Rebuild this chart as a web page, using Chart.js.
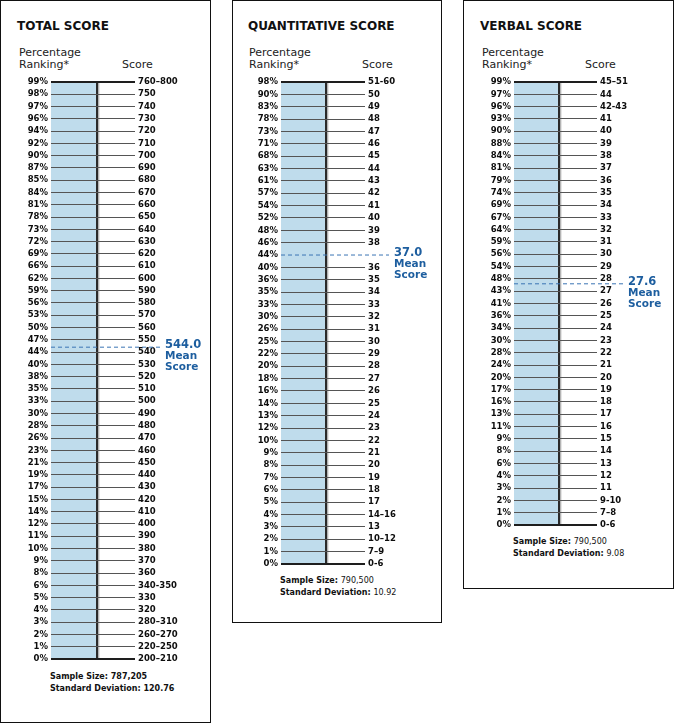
<!DOCTYPE html>
<html>
<head>
<meta charset="utf-8">
<title>Score Percentiles</title>
<script src="https://cdn.jsdelivr.net/npm/chart.js@4.4.1/dist/chart.umd.min.js"></script>
<style>
    html, body { margin: 0; padding: 0; background: #fff; }
    body { position: relative; width: 674px; height: 723px; overflow: hidden; font-family: 'DejaVu Sans', sans-serif; color: #111; }
    .panel { position: absolute; top: 0; border: 1px solid #111; box-sizing: border-box; }
    .txt { position: absolute; white-space: nowrap; }
    .title { font-size: 12px; font-weight: bold; line-height: 14px; }
    .head { font-size: 11px; line-height: 12px; color: #222; }
    .foot { font-size: 8px; line-height: 12px; }
    .foot b { font-weight: bold; }
    canvas { position: absolute; }
</style>
</head>
<body>
<script>
    "use strict";

    // ---- data ----
    const totalRanks = [99, 98, 97, 96, 94, 92, 90, 87, 85, 84, 81, 78, 73, 72, 69, 66, 62, 59, 56, 53, 50, 47, 44, 40, 38, 35, 33, 30, 28, 26, 23, 21, 19, 17, 15, 14, 12, 11, 10, 9, 8, 6, 5, 4, 3, 2, 1, 0];
    const totalScores = ['760–800', '750', '740', '730', '720', '710', '700', '690', '680', '670', '660', '650', '640', '630', '620', '610', '600', '590', '580', '570', '560', '550', '540', '530', '520', '510', '500', '490', '480', '470', '460', '450', '440', '430', '420', '410', '400', '390', '380', '370', '360', '340-350', '330', '320', '280–310', '260–270', '220–250', '200–210'];
    const totalMean = 544.0;

    const quantRanks = [98, 90, 83, 78, 73, 71, 68, 63, 61, 57, 54, 52, 48, 46, 44, 40, 36, 35, 33, 30, 26, 25, 22, 20, 18, 16, 14, 13, 12, 10, 9, 8, 7, 6, 5, 4, 3, 2, 1, 0];
    const quantScores = ['51-60', '50', '49', '48', '47', '46', '45', '44', '43', '42', '41', '40', '39', '38', '37', '36', '35', '34', '33', '32', '31', '30', '29', '28', '27', '26', '25', '24', '23', '22', '21', '20', '19', '18', '17', '14–16', '13', '10–12', '7–9', '0-6'];
    const quantMean = 37.0;

    const verbalRanks = [99, 97, 96, 93, 90, 88, 84, 81, 79, 74, 69, 67, 64, 59, 56, 54, 48, 43, 41, 36, 34, 30, 28, 24, 20, 17, 16, 13, 11, 9, 8, 6, 4, 3, 2, 1, 0];
    const verbalScores = ['45–51', '44', '42-43', '41', '40', '39', '38', '37', '36', '35', '34', '33', '32', '31', '30', '29', '28', '27', '26', '25', '24', '23', '22', '21', '20', '19', '18', '17', '16', '15', '14', '13', '12', '11', '9-10', '7–8', '0-6'];
    const verbalMean = 27.6;

    const sampleSizes = ['787,205', '790,500', '790,500'];
    const stdDevs = ['120.76', '10.92', '9.08'];

    // ---- layout (page pixels) ----
    const panels = [
        { title: 'TOTAL SCORE', ranks: totalRanks, scores: totalScores, mean: totalMean,
          left: 0, width: 211, height: 723, titleX: 17, headX: 19, scoreX: 122,
          areaLeft: 51, split: 97, areaRight: 135, top: 82, bottom: 659, dashEnd: 160, footTop: 671, boldNumbers: true },
        { title: 'QUANTITATIVE SCORE', ranks: quantRanks, scores: quantScores, mean: quantMean,
          left: 232, width: 210, height: 623, titleX: 248, headX: 249, scoreX: 362,
          areaLeft: 281, split: 326, areaRight: 365, top: 82, bottom: 564, dashEnd: 389, footTop: 575, boldNumbers: false },
        { title: 'VERBAL SCORE', ranks: verbalRanks, scores: verbalScores, mean: verbalMean,
          left: 463, width: 211, height: 589, titleX: 480, headX: 482, scoreX: 585,
          areaLeft: 514, split: 559, areaRight: 597, top: 82, bottom: 525, dashEnd: 623, footTop: 536, boldNumbers: false }
    ];

    const BLUE_FILL = '#bfdcec';
    const MEAN_BLUE = '#1d5e9f';
    const GRID = '#555';

    Chart.defaults.font.family = "'DejaVu Sans', sans-serif";
    Chart.defaults.color = '#0d0d0d';

    // row position of the mean, interpolated between the score rows around it
    function meanRow(scores, mean) {
        const v = scores.map(s => parseFloat(s));
        for (let i = 0; i < v.length - 1; i++) {
            if (v[i] >= mean && mean >= v[i + 1]) {
                return i + (v[i] - mean) / (v[i] - v[i + 1]);
            }
        }
        return 0;
    }

    // draws "544.0 / Mean / Score" at the end of the dashed line
    const meanLabel = {
        id: 'meanLabel',
        afterDraw(chart, args, opts) {
            const ctx = chart.ctx;
            const x = chart.scales.x.getPixelForValue(opts.xEnd) + 5;
            const y = chart.scales.y.getPixelForValue(opts.row);
            ctx.save();
            ctx.fillStyle = MEAN_BLUE;
            ctx.textAlign = 'left';
            ctx.textBaseline = 'middle';
            ctx.font = "bold 11.5px 'DejaVu Sans'";
            ctx.fillText(opts.text, x, y - 2);
            ctx.font = "bold 10.5px 'DejaVu Sans'";
            ctx.fillText('Mean', x, y + 9);
            ctx.fillText('Score', x, y + 20);
            ctx.restore();
        }
    };

    function addText(cls, x, y, html) {
        const d = document.createElement('div');
        d.className = 'txt ' + cls;
        d.style.left = x + 'px';
        d.style.top = y + 'px';
        d.innerHTML = html;
        document.body.appendChild(d);
    }

    panels.forEach(function (p, k) {
        const box = document.createElement('div');
        box.className = 'panel';
        box.style.left = p.left + 'px';
        box.style.width = p.width + 'px';
        box.style.height = p.height + 'px';
        document.body.appendChild(box);

        addText('title', p.titleX, 19, p.title);
        addText('head', p.headX, 47, 'Percentage<br>Ranking*');
        addText('head', p.scoreX, 59, 'Score');
        const num = v => p.boldNumbers ? v : '</b>' + v + '<b>';
        addText('foot', p.areaLeft - 1, p.footTop,
            '<b>Sample Size: ' + num(sampleSizes[k]) + '</b><br><b>Standard Deviation: ' + num(stdDevs[k]) + '</b>');

        const n = p.ranks.length;
        const row = meanRow(p.scores, p.mean);
        const hiddenRow = Number.isInteger(row) ? row : -1;

        const canvasLeft = p.left + 1;
        const canvasTop = 70;
        const cw = p.width - 2;
        const ch = p.bottom + 11 - canvasTop;
        const canvas = document.createElement('canvas');
        canvas.width = cw;
        canvas.height = ch;
        canvas.style.left = canvasLeft + 'px';
        canvas.style.top = canvasTop + 'px';
        document.body.appendChild(canvas);

        const span = p.areaRight - p.areaLeft;
        const splitX = (p.split - p.areaLeft) / span;
        const dashX = (p.dashEnd - p.areaLeft) / span;
        const px = 1.6 / span;
        const rowTicks = scale => { scale.ticks = p.ranks.map((r, i) => ({ value: i })); };

        new Chart(canvas, {
            type: 'line',
            plugins: [meanLabel],
            data: {
                datasets: [
                    {
                        // shaded percentile column (drawn first)
                        data: [{ x: 0, y: 0 }, { x: splitX, y: 0 }],
                        fill: { value: n - 1 },
                        backgroundColor: BLUE_FILL,
                        borderWidth: 0,
                        pointRadius: 0,
                        order: 4
                    },
                    {
                        data: [{ x: splitX + px, y: 0 }, { x: splitX + px, y: n - 1 }],
                        borderColor: '#b4b4b4',
                        borderWidth: 1.5,
                        pointRadius: 0,
                        order: 3
                    },
                    {
                        data: [{ x: splitX, y: 0 }, { x: splitX, y: n - 1 }],
                        borderColor: '#2a2a2a',
                        borderWidth: 2,
                        pointRadius: 0,
                        order: 2
                    },
                    {
                        // mean score
                        data: [{ x: 0, y: row }, { x: dashX, y: row }],
                        borderColor: '#3a74b4',
                        borderWidth: 1,
                        borderDash: [4, 3],
                        pointRadius: 0,
                        clip: false,
                        order: 1
                    }
                ]
            },
            options: {
                responsive: false,
                animation: false,
                events: [],
                layout: { padding: { top: p.top - canvasTop, bottom: 11, left: 0, right: 0 } },
                plugins: {
                    legend: { display: false },
                    tooltip: { enabled: false },
                    meanLabel: { text: p.mean.toFixed(1), row: row, xEnd: dashX }
                },
                scales: {
                    x: { type: 'linear', min: 0, max: 1, display: false },
                    y: {
                        type: 'linear',
                        position: 'left',
                        reverse: true,
                        min: 0,
                        max: n - 1,
                        afterBuildTicks: rowTicks,
                        afterFit: scale => { scale.width = p.areaLeft - canvasLeft; },
                        border: { display: false },
                        grid: {
                            z: 1,
                            drawTicks: false,
                            color: c => c.index === hiddenRow ? 'rgba(0,0,0,0)' : (c.index === 0 || c.index === n - 1 ? '#1e1e1e' : GRID),
                            lineWidth: c => (c.index === 0 || c.index === n - 1) ? 2 : 1
                        },
                        ticks: {
                            autoSkip: false,
                            padding: 3,
                            font: { size: 8.5, weight: 'bold' },
                            callback: (v, i) => p.ranks[i] + '%'
                        }
                    },
                    y2: {
                        type: 'linear',
                        position: 'right',
                        reverse: true,
                        min: 0,
                        max: n - 1,
                        afterBuildTicks: rowTicks,
                        afterFit: scale => { scale.width = canvasLeft + cw - p.areaRight; },
                        border: { display: false },
                        grid: { display: false, drawTicks: false },
                        ticks: {
                            autoSkip: false,
                            padding: 3,
                            font: { size: 8.5, weight: 'bold' },
                            callback: (v, i) => i === hiddenRow ? '' : p.scores[i]
                        }
                    }
                }
            }
        });
    });
</script>
</body>
</html>
